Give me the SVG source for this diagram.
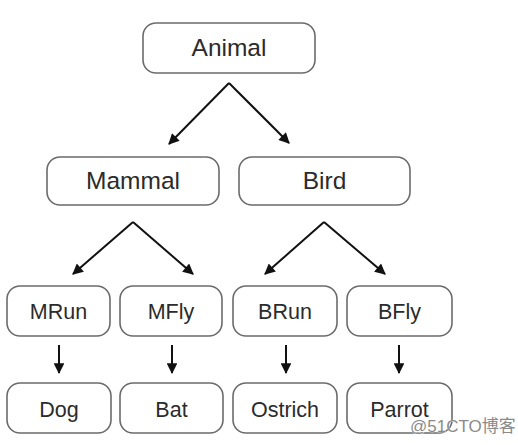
<svg xmlns="http://www.w3.org/2000/svg" width="518" height="445" viewBox="0 0 518 445">
<style>
.box{fill:#fff;stroke:#6b6b6b;stroke-width:1.6}
.t{font-family:"Liberation Sans",Arial,sans-serif;fill:#2b2b2b;text-anchor:middle}
.big{font-size:24.5px}
.sm{font-size:21.5px}
.c{stroke:#111;stroke-width:2;fill:none;marker-end:url(#ah)}
.wm{font-family:"Liberation Sans","Noto Sans CJK SC",sans-serif;font-size:17px;fill:#8a8a8a;stroke:#fff;stroke-width:0.6;paint-order:stroke}
</style>
<defs>
<marker id="ah" viewBox="0 0 10 10" refX="9" refY="5" markerWidth="6" markerHeight="5.4" orient="auto" markerUnits="strokeWidth">
<path d="M0,0 L10,5 L0,10 z" fill="#111"/>
</marker>
</defs>
<rect width="518" height="445" fill="#fff"/>
<g id="connectors">
<path class="c" d="M229,83 L169,144"/>
<path class="c" d="M229,83 L289,143"/>
<path class="c" d="M133,222 L73,274"/>
<path class="c" d="M133,222 L193,274"/>
<path class="c" d="M324,222 L265,274"/>
<path class="c" d="M324,222 L385,274"/>
<path class="c" d="M59,345 L59,373"/>
<path class="c" d="M172,345 L172,373"/>
<path class="c" d="M286,345 L286,373"/>
<path class="c" d="M399,345 L399,373"/>
</g>
<g id="animal"><rect class="box" x="143" y="23" width="172" height="50" rx="13"/><text class="t big" x="229" y="56">Animal</text></g>
<g id="mammal"><rect class="box" x="47" y="157" width="172" height="48" rx="13"/><text class="t big" x="133" y="189">Mammal</text></g>
<g id="bird"><rect class="box" x="239" y="157" width="171" height="48" rx="13"/><text class="t big" x="324.5" y="189">Bird</text></g>
<g id="mrun"><rect class="box" x="7" y="286" width="103" height="50" rx="13"/><text class="t sm" x="58.5" y="319">MRun</text></g>
<g id="mfly"><rect class="box" x="120" y="286" width="102" height="50" rx="13"/><text class="t sm" x="171" y="319">MFly</text></g>
<g id="brun"><rect class="box" x="233" y="286" width="104" height="50" rx="13"/><text class="t sm" x="285" y="319">BRun</text></g>
<g id="bfly"><rect class="box" x="347" y="286" width="105" height="50" rx="13"/><text class="t sm" x="399.5" y="319">BFly</text></g>
<g id="dog"><rect class="box" x="7" y="383" width="104" height="50" rx="13"/><text class="t sm" x="59" y="417">Dog</text></g>
<g id="bat"><rect class="box" x="120" y="383" width="103" height="50" rx="13"/><text class="t sm" x="171.5" y="417">Bat</text></g>
<g id="ostrich"><rect class="box" x="233" y="383" width="104" height="50" rx="13"/><text class="t sm" x="285" y="417">Ostrich</text></g>
<g id="parrot"><rect class="box" x="347" y="383" width="105" height="50" rx="13"/><text class="t sm" x="399.5" y="417">Parrot</text></g>
<text class="wm" x="410" y="432">@51CTO博客</text>
</svg>
